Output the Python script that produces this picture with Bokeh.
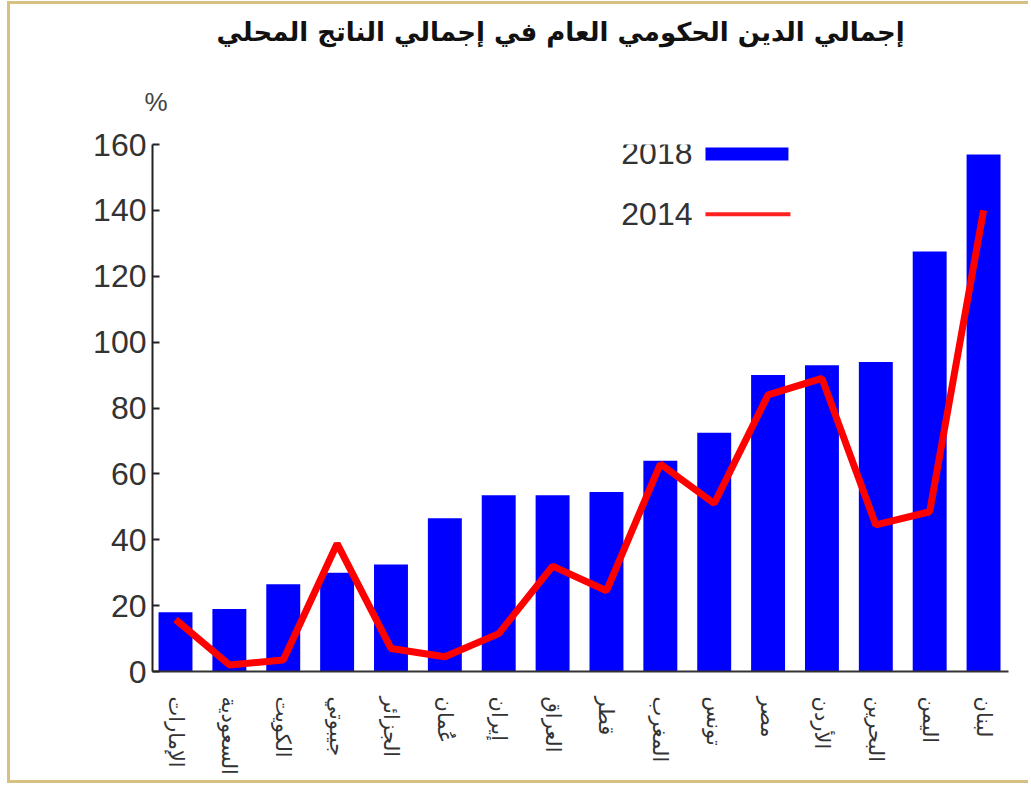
from bokeh.plotting import figure
from bokeh.models import Range1d, FixedTicker, Label, ColumnDataSource, Title
from bokeh.embed import file_html
from bokeh.resources import INLINE

categories = ["الإمارات", "السعودية", "الكويت", "جيبوتي", "الجزائر", "عُمان", "إيران", "العراق",
              "قطر", "المغرب", "تونس", "مصر", "الأردن", "البحرين", "اليمن", "لبنان"]
debt_2018 = [18, 19, 26.5, 30, 32.5, 46.5, 53.5, 53.5, 54.5, 64, 72.5, 90, 93, 94, 127.5, 157]
debt_2014 = [15.8, 2, 3.5, 38.8, 7, 4.5, 11.5, 32, 24.5, 63, 51, 84, 89, 44.5, 48.5, 140]
y_ticks = [0, 20, 40, 60, 80, 100, 120, 140, 160]
title_text = "إجمالي الدين الحكومي العام في إجمالي الناتج المحلي"
unit_text = "%"
series_names = ["2018", "2014"]

idx = list(range(len(categories)))
src = ColumnDataSource(dict(x=idx, cat=categories, v18=debt_2018, v14=debt_2014))

AR_FONT = "DejaVu Sans"
NUM_FONT = "Liberation Sans"
BORDER = "3px solid #d4c183"

p = figure(width=1021, height=782, output_backend="svg", toolbar_location=None,
           x_range=Range1d(-0.427, 15.463), y_range=Range1d(0, 160),
           min_border_left=142, min_border_right=23, min_border_top=139, min_border_bottom=115,
           background_fill_color="white", border_fill_color="white",
           styles={"border-top": BORDER, "border-left": BORDER, "border-bottom": BORDER,
                   "margin-left": "7px", "margin-top": "1px"})
p.outline_line_color = None
p.grid.visible = False

# unit label, nearest the frame
pct = Title(text=unit_text, align="left", text_font=NUM_FONT, text_font_size="26px",
            text_font_style="normal", text_color="#444444", offset=-8, standoff=56)
p.add_layout(pct, "above")

t = Title(text=title_text, align="left", text_font=AR_FONT, text_font_size="26px",
          text_font_style="bold", text_color="#111111", offset=64, standoff=20)
p.add_layout(t, "above")

p.vbar(x="x", top="v18", width=0.63, source=src, fill_color="#0000ff", line_color=None)
p.line(x="x", y="v14", source=src, line_color="#ff0000", line_width=7)

# axes
p.xaxis.ticker = FixedTicker(ticks=idx)
p.xaxis.major_label_overrides = {i: c for i, c in zip(idx, categories)}
p.xaxis.major_label_orientation = "vertical"
p.xaxis.major_label_text_font = AR_FONT
p.xaxis.major_label_text_font_size = "21px"
p.xaxis.major_label_text_color = "#333333"
p.xaxis.major_label_standoff = 19
p.xaxis.major_tick_line_color = None
p.xaxis.minor_tick_line_color = None
p.xaxis.axis_line_color = "#333333"
p.xaxis.axis_line_width = 2

p.yaxis.ticker = FixedTicker(ticks=y_ticks)
p.yaxis.major_label_text_font = NUM_FONT
p.yaxis.major_label_text_font_size = "32px"
p.yaxis.major_label_text_color = "#333333"
p.yaxis.major_label_standoff = 6
p.yaxis.major_tick_in = 7
p.yaxis.major_tick_out = 0
p.yaxis.major_tick_line_width = 2
p.yaxis.major_tick_line_color = "#222222"
p.yaxis.minor_tick_line_color = None
p.yaxis.axis_line_color = "#222222"
p.yaxis.axis_line_width = 2

# manual legend (text left of sample)
p.add_layout(Label(x=9.597, y=157.3, text=series_names[0], text_font=NUM_FONT,
                   text_font_size="32px", text_color="#333333", text_align="right",
                   text_baseline="middle"))
p.add_layout(Label(x=9.597, y=138.8, text=series_names[1], text_font=NUM_FONT,
                   text_font_size="32px", text_color="#333333", text_align="right",
                   text_baseline="middle"))
p.quad(left=[9.838], right=[11.378], bottom=[155.15], top=[159.1],
       fill_color="#0000ff", line_color=None)
p.segment(x0=[9.838], x1=[11.415], y0=[138.8], y1=[138.8], line_color="#ff2020", line_width=4)

open("out.html", "w").write(file_html(p, INLINE))
